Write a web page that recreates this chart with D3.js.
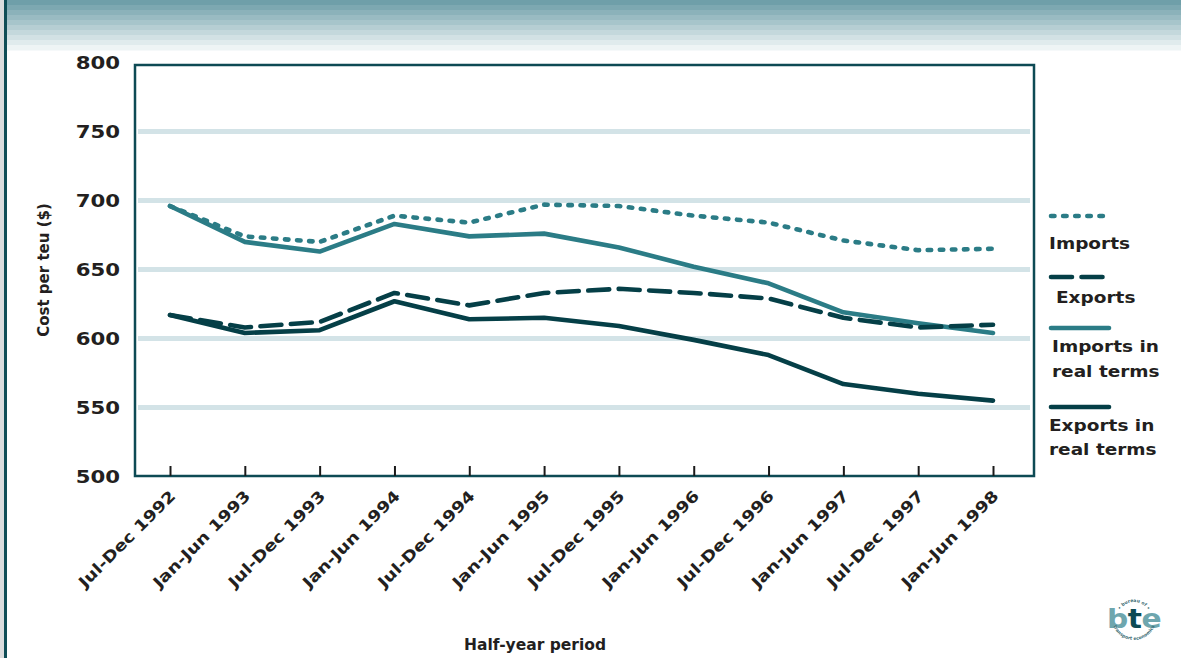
<!DOCTYPE html>
<html>
<head>
<meta charset="utf-8">
<script src="https://cdn.jsdelivr.net/npm/d3@7"></script>
<style>
  html, body { margin: 0; padding: 0; background: #ffffff; }
  svg { display: block; }
  text { font-family: "DejaVu Sans", "Noto Sans", sans-serif; font-weight: bold; fill: #231f20; }
</style>
</head>
<body>
<svg id="chart" width="1181" height="658"></svg>
<script>
// Half-year periods on the x axis
const periods = [
  "Jul-Dec 1992", "Jan-Jun 1993", "Jul-Dec 1993", "Jan-Jun 1994",
  "Jul-Dec 1994", "Jan-Jun 1995", "Jul-Dec 1995", "Jan-Jun 1996",
  "Jul-Dec 1996", "Jan-Jun 1997", "Jul-Dec 1997", "Jan-Jun 1998"
];

// Cost per teu ($)
const imports          = [696, 674, 670, 689, 684, 697, 696, 689, 684, 671, 664, 665];
const exports          = [617, 608, 612, 633, 624, 633, 636, 633, 629, 615, 608, 610];
const importsReal      = [696, 670, 663, 683, 674, 676, 666, 652, 640, 619, 611, 604];
const exportsReal      = [617, 604, 606, 627, 614, 615, 609, 599, 588, 567, 560, 555];

const yTicks = [500, 550, 600, 650, 700, 750, 800];
const gridValues = [550, 600, 650, 700, 750];

const series = [
  { key: "importsReal", label: ["Imports in", "real terms"], values: importsReal, color: "#2b7c86", dash: null },
  { key: "exportsReal", label: ["Exports in", "real terms"], values: exportsReal, color: "#053f47", dash: null },
  { key: "imports",     label: ["Imports"],                  values: imports,     color: "#2b7c86", dash: "3.5 8.6" },
  { key: "exports",     label: ["Exports"],                  values: exports,     color: "#053f47", dash: "21 9.5" }
];

const svg = d3.select("#chart");
const W = 1181, H = 658;

// stretch a text element horizontally (wide display face)
function stretch(sel, k) {
  sel.each(function () {
    const len = this.getComputedTextLength();
    d3.select(this).attr("textLength", len * k).attr("lengthAdjust", "spacingAndGlyphs");
  });
}

// Page furniture: banded header and left rule
const bands = 10, bandH = 5;
const bandColor = d3.interpolateRgb("#6f9fa9", "#eef4f5");
svg.append("g").selectAll("rect")
  .data(d3.range(bands))
  .join("rect")
  .attr("x", 7).attr("width", W - 7)
  .attr("y", i => i * bandH).attr("height", bandH + 0.5)
  .attr("fill", i => bandColor(i / (bands - 1)));
svg.append("rect").attr("x", 0).attr("y", 0).attr("width", 4).attr("height", H).attr("fill", "#dadcdd");
svg.append("rect").attr("x", 4).attr("y", 0).attr("width", 3).attr("height", H).attr("fill", "#0f4d56");

// Plot frame
const frame = { left: 135, right: 1034, top: 65, bottom: 476 };

const x = d3.scalePoint().domain(periods).range([170, 993]);
const y = d3.scaleLinear().domain([500, 800]).range([476.5, 62.5]);

// Gridlines
svg.append("g").selectAll("line")
  .data(gridValues)
  .join("line")
  .attr("x1", frame.left + 3).attr("x2", frame.right - 4)
  .attr("y1", d => y(d)).attr("y2", d => y(d))
  .attr("stroke", "#d3e3e7").attr("stroke-width", 5);

// Frame
svg.append("rect")
  .attr("x", frame.left).attr("y", frame.top)
  .attr("width", frame.right - frame.left).attr("height", frame.bottom - frame.top)
  .attr("fill", "none").attr("stroke", "#0d4a54").attr("stroke-width", 2.5);

// Y axis
const yAxis = svg.append("g")
  .attr("transform", `translate(${frame.left},0)`)
  .call(d3.axisLeft(y).tickValues(yTicks).tickSize(0).tickPadding(15));
yAxis.select(".domain").remove();
yAxis.selectAll("text")
  .attr("font-size", 17).attr("font-family", "DejaVu Sans").attr("font-weight", "bold")
  .attr("fill", "#231f20").attr("dy", "0.36em");
stretch(yAxis.selectAll("text"), 1.25);

// X axis: inward ticks, rotated labels
const xAxis = svg.append("g")
  .attr("transform", `translate(0,${frame.bottom})`)
  .call(d3.axisBottom(x).tickSizeInner(-10).tickSizeOuter(0).tickPadding(0));
xAxis.select(".domain").remove();
xAxis.selectAll(".tick line").attr("stroke", "#1a1a1a").attr("stroke-width", 2);
xAxis.selectAll("text")
  .attr("font-size", 15.5).attr("font-family", "DejaVu Sans").attr("font-weight", "bold")
  .attr("fill", "#231f20")
  .attr("text-anchor", "end")
  .attr("dy", 0).attr("y", 0)
  .attr("transform", "translate(6,21) rotate(-45)");
stretch(xAxis.selectAll("text"), 1.18);

// Axis titles
svg.append("text")
  .attr("transform", `translate(49,270) rotate(-90)`)
  .attr("text-anchor", "middle")
  .attr("font-size", 15)
  .text("Cost per teu ($)");

svg.append("text")
  .attr("x", 535).attr("y", 650)
  .attr("text-anchor", "middle")
  .attr("font-size", 15.5)
  .text("Half-year period");

// Series lines
const line = d3.line().x((d, i) => x(periods[i])).y(d => y(d));
svg.append("g").selectAll("path")
  .data(series)
  .join("path")
  .attr("d", d => line(d.values))
  .attr("fill", "none")
  .attr("stroke", d => d.color)
  .attr("stroke-width", 4.6)
  .attr("stroke-linecap", "round")
  .attr("stroke-linejoin", "round")
  .attr("stroke-dasharray", d => d.dash);

// Legend
const legendItems = [
  { s: series[2], ly: 216, tx: 1049, ty: [243] },
  { s: series[3], ly: 277, tx: 1056, ty: [297] },
  { s: series[0], ly: 328, tx: 1052, ty: [346, 371] },
  { s: series[1], ly: 407, tx: 1049, ty: [425, 449] }
];
const lg = svg.append("g");
legendItems.forEach(item => {
  lg.append("line")
    .attr("x1", 1051).attr("x2", 1109)
    .attr("y1", item.ly).attr("y2", item.ly)
    .attr("stroke", item.s.color).attr("stroke-width", 4.6)
    .attr("stroke-linecap", "round")
    .attr("stroke-dasharray", item.s.dash);
  item.s.label.forEach((t, i) => {
    const tEl = lg.append("text")
      .attr("x", item.tx).attr("y", item.ty[i]).attr("dy", "0.36em")
      .attr("font-size", 16.5)
      .text(t);
    stretch(tEl, 1.12);
  });
});

// Publisher mark: "bte" with ring lettering above and below
const logo = svg.append("g").attr("transform", "translate(1134,618)");
const mark = logo.append("text")
  .attr("text-anchor", "middle").attr("y", 10)
  .attr("font-size", 27).attr("font-family", "DejaVu Sans").attr("font-weight", "bold")
  .style("letter-spacing", "-0.5px");
mark.append("tspan").attr("fill", "#6ea6ae").text("b");
mark.append("tspan").attr("fill", "#0d4a54").text("t");
mark.append("tspan").attr("fill", "#6ea6ae").text("e");
stretch(mark, 1.1);
logo.append("path").attr("id", "arcTop")
  .attr("d", "M -16,0 A 16,16 0 0 1 16,0").attr("fill", "none");
logo.append("path").attr("id", "arcBottom")
  .attr("d", "M -22,0 A 22,22 0 0 0 22,0").attr("fill", "none");
logo.append("text").attr("font-size", 4.5).attr("font-weight", "normal").style("fill", "#3a6c74")
  .append("textPath").attr("href", "#arcTop").attr("startOffset", "50%").attr("text-anchor", "middle")
  .text("• bureau of •");
logo.append("text").attr("font-size", 4.5).attr("font-weight", "normal").style("fill", "#3a6c74")
  .append("textPath").attr("href", "#arcBottom").attr("startOffset", "50%").attr("text-anchor", "middle")
  .text("transport economics");
</script>
</body>
</html>
